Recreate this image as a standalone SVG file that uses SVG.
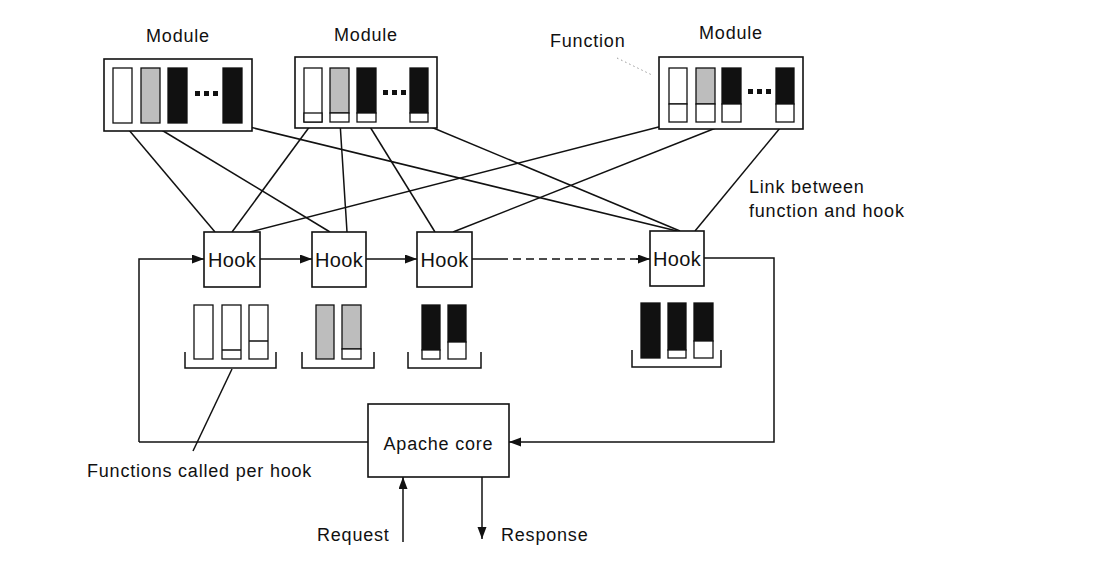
<svg xmlns="http://www.w3.org/2000/svg" width="1114" height="576" viewBox="0 0 1114 576">
<style>
text{font-family:"Liberation Sans",Arial,sans-serif;font-size:18px;letter-spacing:0.8px;fill:#111}
.hk{font-size:20px;letter-spacing:0.3px}
.box{fill:#fff;stroke:#111;stroke-width:1.6}
.w{fill:#fff;stroke:#111;stroke-width:1.3}
.g{fill:#bdbdbd;stroke:#111;stroke-width:1.3}
.b{fill:#111;stroke:#111;stroke-width:1.3}
.ln{fill:none;stroke:#111;stroke-width:1.5}
.dot{fill:#111}
</style>
<defs>
<marker id="ah" markerUnits="userSpaceOnUse" markerWidth="13" markerHeight="10" refX="12" refY="4.5" orient="auto">
<path d="M0,0 L12,4.5 L0,9 z" fill="#111"/>
</marker>
</defs>

<g id="connectors">
<line class="ln" x1="123" y1="123" x2="215" y2="232"/>
<line class="ln" x1="150" y1="123" x2="330" y2="232"/>
<line class="ln" x1="233" y1="123" x2="677" y2="231"/>
<line class="ln" x1="313" y1="122" x2="232" y2="232"/>
<line class="ln" x1="340" y1="122" x2="347" y2="232"/>
<line class="ln" x1="367" y1="122" x2="435" y2="232"/>
<line class="ln" x1="419" y1="122" x2="680" y2="231"/>
<line class="ln" x1="678" y1="122" x2="250" y2="232"/>
<line class="ln" x1="731" y1="122" x2="453" y2="232"/>
<line class="ln" x1="785" y1="122" x2="695" y2="231"/>
<line x1="617" y1="58" x2="652" y2="75" stroke="#999" stroke-width="1" stroke-dasharray="1.5 3"/>
<path class="ln" d="M139,442 V259 H204" marker-end="url(#ah)"/>
<line class="ln" x1="260" y1="259" x2="312" y2="259" marker-end="url(#ah)"/>
<line class="ln" x1="366" y1="259" x2="417" y2="259" marker-end="url(#ah)"/>
<line class="ln" x1="472" y1="259" x2="500" y2="259"/>
<line class="ln" x1="500" y1="259" x2="638" y2="259" stroke-dasharray="8 5"/>
<line class="ln" x1="636" y1="259" x2="650" y2="259" marker-end="url(#ah)"/>
<path class="ln" d="M704,258 H774 V442 H509" marker-end="url(#ah)"/>
<line class="ln" x1="139" y1="442" x2="368" y2="442"/>
<line class="ln" x1="403" y1="542" x2="403" y2="477" marker-end="url(#ah)"/>
<line class="ln" x1="482" y1="477" x2="482" y2="539" marker-end="url(#ah)"/>
<line class="ln" x1="193" y1="451" x2="232" y2="369"/>
</g>

<g id="module1">
<text x="178" y="42" text-anchor="middle">Module</text>
<rect class="box" x="104" y="59" width="148" height="72"/>
<rect class="w" x="113" y="68" width="19" height="55"/>
<rect class="g" x="141" y="68" width="19" height="55"/>
<rect class="b" x="168" y="68" width="19" height="55"/>
<rect class="b" x="223" y="68" width="19" height="55"/>
<rect class="dot" x="195" y="91" width="5" height="5"/>
<rect class="dot" x="204" y="91" width="5" height="5"/>
<rect class="dot" x="213" y="91" width="5" height="5"/>
</g>

<g id="module2">
<text x="366" y="41" text-anchor="middle">Module</text>
<rect class="box" x="295" y="57" width="142" height="71"/>
<rect class="w" x="304" y="68" width="18" height="54"/>
<rect class="g" x="330" y="68" width="19" height="45"/>
<rect class="b" x="357" y="68" width="19" height="45"/>
<rect class="b" x="410" y="68" width="18" height="45"/>
<rect class="w" x="304" y="113" width="18" height="9"/>
<rect class="w" x="330" y="113" width="19" height="9"/>
<rect class="w" x="357" y="113" width="19" height="9"/>
<rect class="w" x="410" y="113" width="18" height="9"/>
<rect class="dot" x="383" y="90" width="5" height="5"/>
<rect class="dot" x="392" y="90" width="5" height="5"/>
<rect class="dot" x="401" y="90" width="5" height="5"/>
</g>

<g id="module3">
<text x="731" y="39" text-anchor="middle">Module</text>
<text x="550" y="47">Function</text>
<rect class="box" x="659" y="57" width="144" height="72"/>
<rect class="w" x="669" y="68" width="18" height="36"/>
<rect class="g" x="696" y="68" width="19" height="36"/>
<rect class="b" x="722" y="68" width="19" height="36"/>
<rect class="b" x="776" y="68" width="18" height="36"/>
<rect class="w" x="669" y="104" width="18" height="18"/>
<rect class="w" x="696" y="104" width="19" height="18"/>
<rect class="w" x="722" y="104" width="19" height="18"/>
<rect class="w" x="776" y="104" width="18" height="18"/>
<rect class="dot" x="748" y="89" width="5" height="5"/>
<rect class="dot" x="757" y="89" width="5" height="5"/>
<rect class="dot" x="766" y="89" width="5" height="5"/>
</g>

<g id="hook1">
<rect class="box" x="204" y="232" width="56" height="55"/>
<text class="hk" x="232" y="267" text-anchor="middle">Hook</text>
<rect class="w" x="194" y="305" width="19" height="54"/>
<rect class="w" x="222" y="305" width="19" height="54"/>
<rect class="w" x="249" y="305" width="19" height="54"/>
<line class="ln" x1="222" y1="350" x2="241" y2="350"/>
<line class="ln" x1="249" y1="341" x2="268" y2="341"/>
<path class="ln" d="M185,352 V368 H276 V352"/>
</g>

<g id="hook2">
<rect class="box" x="312" y="232" width="54" height="55"/>
<text class="hk" x="339" y="267" text-anchor="middle">Hook</text>
<rect class="g" x="316" y="305" width="18" height="54"/>
<rect class="g" x="342" y="305" width="19" height="44"/>
<rect class="w" x="342" y="349" width="19" height="10"/>
<path class="ln" d="M302,352 V368 H374 V352"/>
</g>

<g id="hook3">
<rect class="box" x="417" y="232" width="55" height="55"/>
<text class="hk" x="444.5" y="267" text-anchor="middle">Hook</text>
<rect class="b" x="422" y="305" width="18" height="45"/>
<rect class="w" x="422" y="350" width="18" height="9"/>
<rect class="b" x="448" y="305" width="18" height="37"/>
<rect class="w" x="448" y="342" width="18" height="17"/>
<path class="ln" d="M408,352 V368 H481 V352"/>
</g>

<g id="hook4">
<rect class="box" x="650" y="231" width="54" height="55"/>
<text class="hk" x="677" y="266" text-anchor="middle">Hook</text>
<rect class="b" x="641" y="303" width="19" height="55"/>
<rect class="b" x="668" y="303" width="18" height="47"/>
<rect class="w" x="668" y="350" width="18" height="8"/>
<rect class="b" x="694" y="303" width="19" height="38"/>
<rect class="w" x="694" y="341" width="19" height="17"/>
<path class="ln" d="M632,350 V367 H721 V350"/>
<text x="749" y="193">Link between</text>
<text x="749" y="217">function and hook</text>
</g>

<g id="apache-core">
<rect class="box" x="368" y="404" width="141" height="73"/>
<text x="438.5" y="450" text-anchor="middle">Apache core</text>
</g>

<g id="labels">
<text x="87" y="477">Functions called per hook</text>
<text x="317" y="541">Request</text>
<text x="501" y="541">Response</text>
</g>
</svg>
